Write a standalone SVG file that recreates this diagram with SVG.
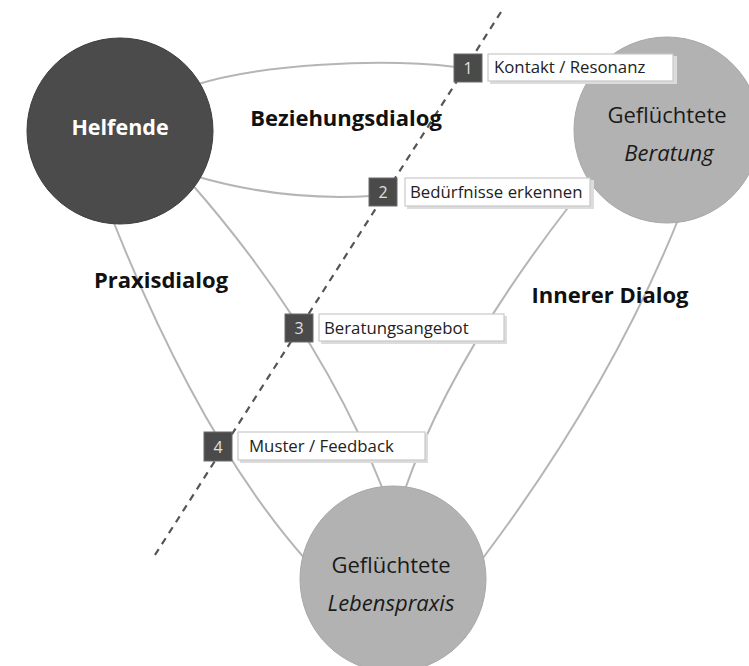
<svg xmlns="http://www.w3.org/2000/svg" width="749" height="666" viewBox="0 0 749 666">
<defs>
<style>
.conn{fill:none;stroke:#b5b5b5;stroke-width:2}
.dash{fill:none;stroke:#555;stroke-width:2.2;stroke-dasharray:7 6}
.num{fill:#4a4a4a;stroke:#6a6a6a;stroke-width:1}
.numt{font-family:"Open Sans","Liberation Sans",sans-serif;font-size:16px;fill:#e0e0e0;text-anchor:middle}
.lab{fill:#fff;stroke:#c8c8c8;stroke-width:1.2}
.shadow{fill:#dcdcdc}
.labt{font-family:"Open Sans","Liberation Sans",sans-serif;font-size:16.8px;fill:#222}
.head{font-family:"Open Sans","Liberation Sans",sans-serif;font-size:22px;font-weight:bold;fill:#111;text-anchor:middle}
.ct{font-family:"Open Sans","Liberation Sans",sans-serif;font-size:22px;fill:#1a1a1a;text-anchor:middle}
</style>
</defs>
<rect width="749" height="666" fill="#fff"/>
<g id="connectors">
<path class="conn" d="M195,85 C260,64 380,58 456,67"/>
<path class="conn" d="M195,176 C260,195 320,199 371,196"/>
<path class="conn" d="M190,182 Q320,330 384,492"/>
<path class="conn" d="M570,205 Q450,360 404,492"/>
<path class="conn" d="M112,218 Q200,440 306,560"/>
<path class="conn" d="M680,215 Q610,390 480,562"/>
<path class="dash" d="M501,12 L155,555"/>
</g>
<g id="helfende">
<circle cx="120" cy="131" r="93" fill="#4b4b4b" stroke="#3e3e3e" stroke-width="1"/>
<text x="120" y="135" class="ct" style="fill:#fff;font-weight:bold;font-size:21.5px">Helfende</text>
</g>
<g id="beratung">
<circle cx="667" cy="130" r="93" fill="#b2b2b2" stroke="#a8a8a8" stroke-width="1"/>
<text x="667" y="123" class="ct">Geflüchtete</text>
<text x="669" y="161" class="ct" font-style="italic">Beratung</text>
</g>
<g id="lebenspraxis">
<circle cx="393" cy="579" r="93" fill="#b2b2b2" stroke="#a8a8a8" stroke-width="1"/>
<text x="391" y="573" class="ct">Geflüchtete</text>
<text x="391" y="611" class="ct" font-style="italic">Lebenspraxis</text>
</g>
<g id="step1">
<rect class="shadow" x="490" y="56" width="187" height="28"/>
<rect class="lab" x="488" y="54" width="185" height="27"/>
<text class="labt" x="494" y="73">Kontakt / Resonanz</text>
<rect class="num" x="454" y="54" width="28" height="28"/>
<text class="numt" x="468" y="74">1</text>
</g>
<g id="step2">
<rect class="shadow" x="407" y="180" width="187" height="29"/>
<rect class="lab" x="405" y="178" width="185" height="28"/>
<text class="labt" x="410" y="198">Bedürfnisse erkennen</text>
<rect class="num" x="369" y="178" width="28" height="28"/>
<text class="numt" x="383" y="198">2</text>
</g>
<g id="step3">
<rect class="shadow" x="321" y="316" width="186" height="28"/>
<rect class="lab" x="319" y="314" width="185" height="27"/>
<text class="labt" x="324" y="334">Beratungsangebot</text>
<rect class="num" x="285" y="314" width="28" height="28"/>
<text class="numt" x="299" y="334">3</text>
</g>
<g id="step4">
<rect class="shadow" x="240" y="434" width="188" height="29"/>
<rect class="lab" x="238" y="432" width="187" height="28"/>
<text class="labt" x="249" y="452">Muster / Feedback</text>
<rect class="num" x="204" y="432" width="28" height="29"/>
<text class="numt" x="218" y="453">4</text>
</g>
<g id="labels">
<text class="head" x="346" y="126">Beziehungsdialog</text>
<text class="head" x="161" y="288">Praxisdialog</text>
<text class="head" x="610" y="303">Innerer Dialog</text>
</g>
</svg>
